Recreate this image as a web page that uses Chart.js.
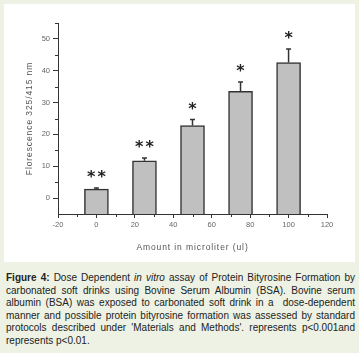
<!DOCTYPE html>
<html>
<head>
<meta charset="utf-8">
<script src="https://cdn.jsdelivr.net/npm/chart.js@4"></script>
<style>
  html, body { margin: 0; padding: 0; width: 359px; height: 353px; overflow: hidden; background: #edf2e5; }
  #panel { position: absolute; left: 4px; top: 4px; width: 351px; height: 258px; background: #fff; }
  #caption { position: absolute; left: 6px; top: 272px; width: 349px; font-family: "Liberation Sans", Arial, sans-serif;
             font-size: 10px; line-height: 12.6px; color: #222; }
  #caption .ln { text-align: justify; text-align-last: justify; }
  #caption .last { text-align: left; }
</style>
</head>
<body>
<div id="panel"><canvas id="chart" width="351" height="258"></canvas></div>
<div id="caption">
  <div class="ln"><b>Figure 4:</b> Dose Dependent <i>in vitro</i> assay of Protein Bityrosine Formation by</div>
  <div class="ln">carbonated soft drinks using Bovine Serum Albumin (BSA). Bovine serum</div>
  <div class="ln">albumin (BSA) was exposed to carbonated soft drink in a&nbsp; dose-dependent</div>
  <div class="ln">manner and possible protein bityrosine formation was assessed by standard</div>
  <div class="ln">protocols described under 'Materials and Methods'. represents p&lt;0.001and</div>
  <div class="last">represents p&lt;0.01.</div>
</div>
<script>
// amounts in microliter and measured fluorescence
const doses = [0, 25, 50, 75, 100];
const intensity = [2.8, 11.7, 22.8, 33.5, 42.6];
const errUpper = [0.4, 0.9, 1.9, 3.0, 4.2];
const sigMarks = ['**', '**', '*', '*', '*'];

const xTicks = [-20, 0, 20, 40, 60, 80, 100, 120];
const xMinor = [-10, 10, 30, 50, 70, 90, 110];
const yTicks = [0, 10, 20, 30, 40, 50];
const yMinor = [5, 15, 25, 35, 45, 55];

const axisColor = '#333';
const labelColor = '#666';
const fontFam = '"Liberation Sans", Arial, sans-serif';

// error bars, stars, minor ticks
const extras = {
    id: 'extras',
    beforeDraw(chart) {
        chart.ctx.letterSpacing = '0.9px';
    },
    afterDatasetsDraw(chart) {
        const ctx = chart.ctx;
        const xs = chart.scales.x, ys = chart.scales.y;
        ctx.save();
        ctx.letterSpacing = '0px';
        ctx.strokeStyle = axisColor;
        ctx.lineWidth = 1.5;
        doses.forEach((d, i) => {
            const px = xs.getPixelForValue(d);
            const top = ys.getPixelForValue(intensity[i]);
            const hi = ys.getPixelForValue(intensity[i] + errUpper[i]);
            ctx.beginPath();
            ctx.moveTo(px, top);
            ctx.lineTo(px, hi);
            ctx.moveTo(px - 2.5, hi);
            ctx.lineTo(px + 2.5, hi);
            ctx.stroke();

            ctx.fillStyle = '#222';
            ctx.font = 'bold 16px "DejaVu Sans"';
            ctx.letterSpacing = '2px';
            ctx.textAlign = 'center';
            ctx.textBaseline = 'middle';
            ctx.fillText(sigMarks[i], px + 1, hi - 10);
            ctx.letterSpacing = '0px';
        });

        ctx.lineWidth = 1;
        ctx.beginPath();
        xMinor.forEach(v => {
            const px = Math.round(xs.getPixelForValue(v)) + 0.5;
            ctx.moveTo(px, xs.top);
            ctx.lineTo(px, xs.top + 3);
        });
        yMinor.forEach(v => {
            const py = Math.round(ys.getPixelForValue(v)) + 0.5;
            ctx.moveTo(ys.right, py);
            ctx.lineTo(ys.right - 3, py);
        });
        ctx.stroke();
        ctx.restore();
        chart.ctx.letterSpacing = '0px';
    }
};

new Chart(document.getElementById('chart'), {
    type: 'bar',
    data: {
        datasets: [{
            data: doses.map((d, i) => ({ x: d, y: intensity[i] })),
            base: -5,
            backgroundColor: '#c0c0c0',
            borderColor: axisColor,
            borderWidth: 1.5,
            borderSkipped: 'bottom',
            barThickness: 24
        }]
    },
    options: {
        responsive: false,
        animation: false,
        events: [],
        layout: { padding: { left: 0, right: 28, top: 19, bottom: 0 } },
        plugins: { legend: { display: false }, tooltip: { enabled: false } },
        scales: {
            x: {
                type: 'linear',
                min: -20, max: 120,
                offset: false,
                afterBuildTicks: s => { s.ticks = xTicks.map(v => ({ value: v })); },
                afterFit: s => { s.height = 48; },
                grid: { drawOnChartArea: false, offset: false, tickLength: 4, color: axisColor },
                border: { color: axisColor, width: 1 },
                ticks: { color: labelColor, font: { size: 7.5, family: fontFam }, padding: 2, maxRotation: 0, z: 1 },
                title: { display: true, text: 'Amount in microliter (ul)', color: '#555',
                         font: { size: 8.5, family: fontFam }, padding: { top: 11, bottom: 9 } }
            },
            y: {
                min: -5, max: 55,
                afterBuildTicks: s => { s.ticks = yTicks.map(v => ({ value: v })); },
                afterFit: s => { s.width = 54; },
                grid: { drawOnChartArea: false, tickLength: 5, color: axisColor },
                border: { color: axisColor, width: 1 },
                ticks: { color: labelColor, font: { size: 7.5, family: fontFam }, padding: 3, z: 1 },
                title: { display: true, text: 'Florescence 325/415 nm', color: '#555',
                         font: { size: 8.5, family: fontFam }, padding: { top: 21, bottom: 0 } }
            }
        }
    },
    plugins: [extras]
});
</script>
</body>
</html>
